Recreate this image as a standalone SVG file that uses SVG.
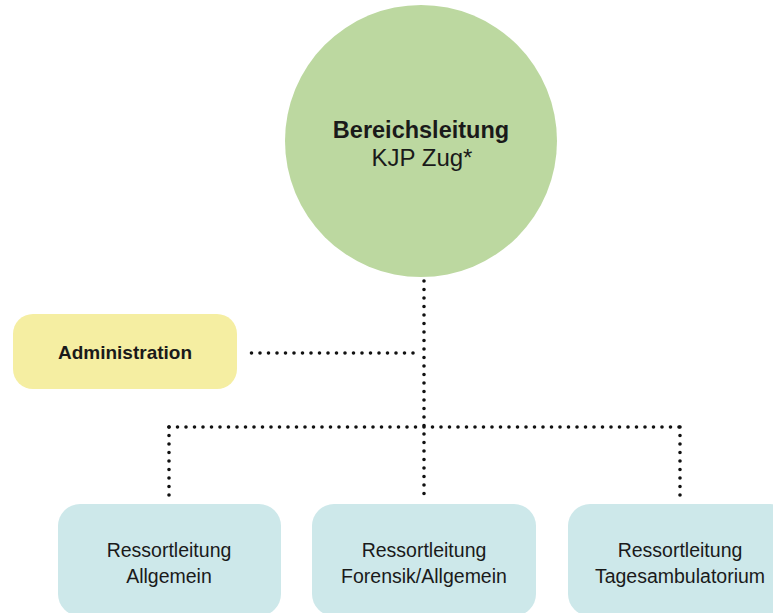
<svg xmlns="http://www.w3.org/2000/svg" width="773" height="613" viewBox="0 0 773 613">
  <style>
    .t { font-family: "Liberation Sans", Arial, sans-serif; fill: #1a1a1a; text-anchor: middle; }
    .b { font-weight: bold; }
    .dots { fill: none; stroke: #111; stroke-width: 3.6; stroke-linecap: round; stroke-dasharray: 0 8.5; }
    .res { fill: #cde8ea; }
    .rt { font-size: 19.5px; }
  </style>
  <rect width="773" height="613" fill="#ffffff"/>
  <g id="connectors">
    <path class="dots" d="M424 281 V500"/>
    <path class="dots" d="M413 353 H245"/>
    <path class="dots" d="M169 427 H681"/>
    <path class="dots" d="M169 427 V500"/>
    <path class="dots" d="M680 427 V500"/>
  </g>
  <g id="bereichsleitung">
    <circle cx="421" cy="141" r="136" fill="#bcd8a0"/>
    <text class="t b" x="421" y="138" font-size="23.5">Bereichsleitung</text>
    <text class="t" x="422" y="166" font-size="24">KJP Zug*</text>
  </g>
  <g id="administration">
    <rect x="13" y="314" width="224" height="75" rx="20" fill="#f5eea2"/>
    <text class="t b" x="125" y="359" font-size="19">Administration</text>
  </g>
  <g id="ressort-allgemein">
    <rect class="res" x="58" y="504" width="223" height="112" rx="22"/>
    <text class="t rt" x="169" y="557">Ressortleitung</text>
    <text class="t rt" x="169" y="583">Allgemein</text>
  </g>
  <g id="ressort-forensik">
    <rect class="res" x="312" y="504" width="224" height="112" rx="22"/>
    <text class="t rt" x="424" y="557">Ressortleitung</text>
    <text class="t rt" x="424" y="583">Forensik/Allgemein</text>
  </g>
  <g id="ressort-tagesambulatorium">
    <rect class="res" x="568" y="504" width="224" height="112" rx="22"/>
    <text class="t rt" x="680" y="557">Ressortleitung</text>
    <text class="t rt" x="680" y="583">Tagesambulatorium</text>
  </g>
</svg>
